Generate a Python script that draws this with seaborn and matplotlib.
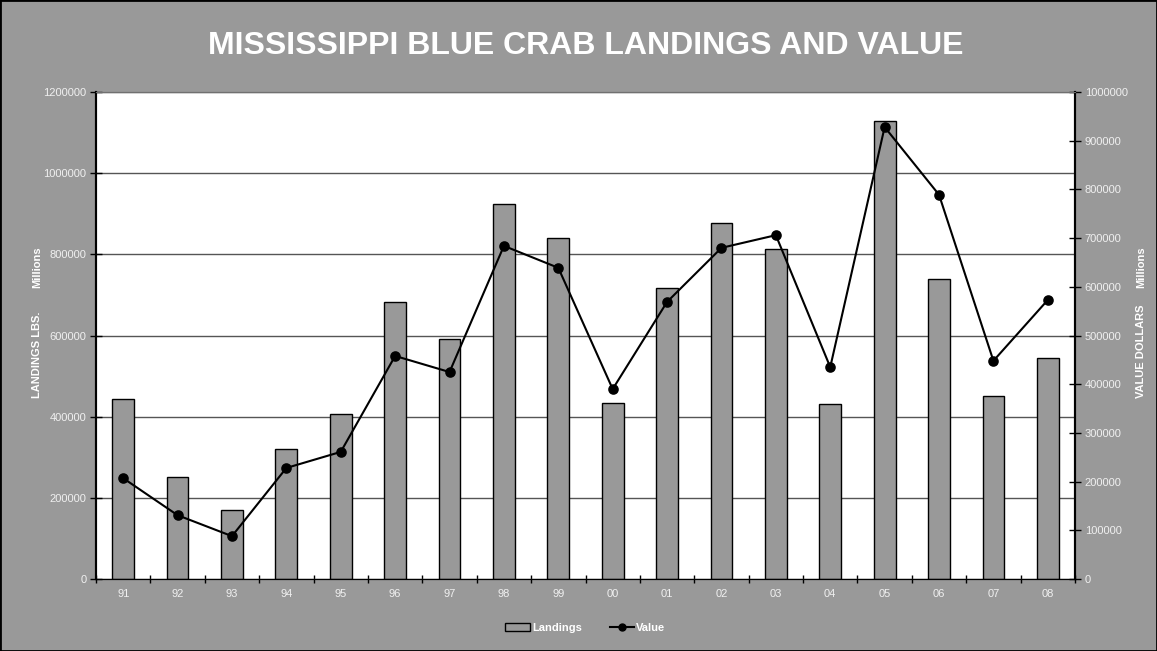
import numpy as np
import matplotlib
matplotlib.use("Agg")
import matplotlib.pyplot as plt
from matplotlib.patches import Rectangle, Patch
from matplotlib.lines import Line2D
from matplotlib.ticker import FuncFormatter
import seaborn as sns

# data
years = ['91', '92', '93', '94', '95', '96', '97', '98', '99',
         '00', '01', '02', '03', '04', '05', '06', '07', '08']
landings = [443000, 251000, 170000, 320000, 407000, 683000, 591000, 924000, 840000,
            434000, 717000, 877000, 813000, 431000, 1128000, 739000, 451000, 545000]
value = [207000, 131000, 88000, 228000, 261000, 458000, 425000, 684000, 639000,
         390000, 569000, 680000, 706000, 435000, 928000, 789000, 448000, 573000]

bg = '#999999'
txt = '#f0f0f0'

plt.rcParams['font.family'] = ['Liberation Sans', 'DejaVu Sans']

fig = plt.figure(figsize=(11.57, 6.51), dpi=100, facecolor=bg)
ax = fig.add_axes([96 / 1157, 1 - 579 / 651, (1075 - 96) / 1157, (579 - 92) / 651])
ax.set_facecolor('white')

sns.barplot(x=years, y=landings, ax=ax, color=bg, saturation=1,
            edgecolor='black', linewidth=1, width=0.4)

ax2 = ax.twinx()
sns.pointplot(x=years, y=value, ax=ax2, color='black', markers='o',
              markersize=6.5, linewidth=1.5)

ax.set_xlim(-0.5, len(years) - 0.5)
ax.set_ylim(0, 1200000)
ax2.set_ylim(0, 1000000)
ax.set_yticks(np.arange(0, 1200001, 200000))
ax2.set_yticks(np.arange(0, 1000001, 100000))
plain = FuncFormatter(lambda v, p: f'{int(v)}')
ax.yaxis.set_major_formatter(plain)
ax2.yaxis.set_major_formatter(plain)

ax.set_axisbelow(True)
ax.yaxis.grid(True, color='#555555', linewidth=1)
ax.xaxis.grid(False)

ax.set_xticks(np.arange(len(years)))
ax.set_xticklabels(years)
ax.set_xticks(np.arange(-0.5, len(years), 1), minor=True)
ax.tick_params(axis='x', which='major', length=0, pad=7, labelsize=8, labelcolor=txt)
ax.tick_params(axis='x', which='minor', length=6, direction='inout', width=1)
ax.tick_params(axis='y', length=8, direction='inout', width=1, pad=3,
               labelsize=8, labelcolor=txt)
ax2.tick_params(axis='y', length=8, direction='inout', width=1, pad=3,
                labelsize=8, labelcolor=txt)
ax.set_xlabel('')
ax.set_ylabel('')
ax2.set_ylabel('')

for a in (ax, ax2):
    a.spines['top'].set_color('#707070')
    a.spines['left'].set_color('black')
    a.spines['left'].set_linewidth(1.5)
    a.spines['right'].set_color('black')
    a.spines['right'].set_linewidth(1.5)
    a.spines['bottom'].set_color('black')

fig.text(0.506, 1 - 46 / 651, 'MISSISSIPPI BLUE CRAB LANDINGS AND VALUE',
         ha='center', va='center', color='white', fontsize=23, fontweight='bold')

fig.text(37 / 1157, 1 - 267 / 651, 'Millions', rotation=90, ha='center', va='center',
         color='white', fontsize=8, fontweight='bold')
fig.text(37 / 1157, 1 - 355 / 651, 'LANDINGS LBS.', rotation=90, ha='center', va='center',
         color='white', fontsize=8, fontweight='bold')
fig.text(1141 / 1157, 1 - 267 / 651, 'Millions', rotation=90, ha='center', va='center',
         color='white', fontsize=8, fontweight='bold')
fig.text(1141 / 1157, 1 - 351 / 651, 'VALUE DOLLARS', rotation=90, ha='center', va='center',
         color='white', fontsize=8, fontweight='bold')

handles = [Patch(facecolor=bg, edgecolor='black', linewidth=1),
           Line2D([], [], color='black', marker='o', markersize=5, linewidth=1.5)]
leg = fig.legend(handles, ['Landings', 'Value'], loc='center',
                 bbox_to_anchor=(0.506, 1 - 628 / 651), ncol=2, frameon=False,
                 handlelength=2.2, handleheight=0.8, handletextpad=0.2,
                 columnspacing=2.5, prop={'size': 8, 'weight': 'bold'})
for t in leg.get_texts():
    t.set_color('white')

fig.patches.append(Rectangle((0, 0), 1, 1, transform=fig.transFigure, fill=False,
                             edgecolor='black', linewidth=2))

fig.savefig('out.png', dpi=100, facecolor=bg)
